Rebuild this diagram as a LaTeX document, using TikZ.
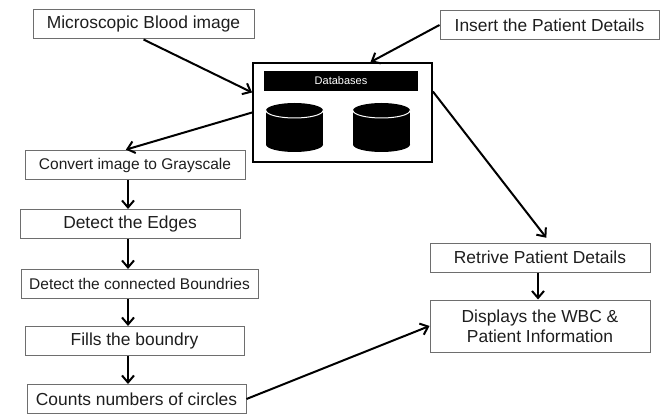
\documentclass[tikz,border=0pt]{standalone}
\usepackage{fontspec}
\setmainfont{Liberation Sans}
\usetikzlibrary{arrows.meta}
\definecolor{bordacinza}{RGB}{110,110,110}
\definecolor{textocinza}{RGB}{30,30,30}
\begin{document}
\begin{tikzpicture}[
		x=1pt, y=-1pt,
		caixa/.style={
			draw=bordacinza,
			rectangle,
			minimum height=29pt,
			inner sep=0pt,
			align=center,
			text=textocinza,
			line width=1pt,
			font=\fontsize{17.4}{20}\selectfont
		},
		caixapeq/.style={
			caixa,
			font=\fontsize{15.5}{18}\selectfont
		},
		seta/.style={
			-{Straight Barb[length=7pt,width=12pt]},
			line width=2pt
		}
		]
		\useasboundingbox (0,0) rectangle (666,414);
		
		\node[caixa, minimum width=221pt] (micro) at (143.5,24.5) {Microscopic Blood image};
		\node[caixa, minimum width=219pt] (insert) at (549.5,25) {Insert the Patient Details};
		
		\node[draw, line width=1.8pt, minimum width=179pt, minimum height=99pt] (db) at (342.5,112.5) {};
		\node[fill=black, text=white, minimum width=154pt, minimum height=20pt, inner sep=0pt,
			font=\fontsize{11}{13}\selectfont] (bar) at (341,81) {Databases};
		\foreach \cx in {294.5,381.5} {
			\fill (\cx-28.5,110.5) rectangle (\cx+28.5,144.5);
			\fill (\cx,110.5) ellipse (28.5 and 7.5);
			\fill (\cx,144.5) ellipse (28.5 and 7.5);
			\draw[white, line width=1pt] (\cx-28.5,110.5) arc (180:0:28.5 and 7.5);
		}
		
		\node[caixapeq, minimum width=220pt] (convert) at (135,165.5) {Convert image to Grayscale};
		\node[caixa, minimum width=220pt] (edges) at (130,224) {Detect the Edges};
		\node[caixapeq, minimum width=237pt] (bound) at (139.5,284) {Detect the connected Boundries};
		\node[caixa, minimum width=219pt] (fills) at (134.5,341) {Fills the boundry};
		\node[caixa, minimum width=219pt] (counts) at (136.5,399) {Counts numbers of circles};
		
		\node[caixa, minimum width=220pt] (retrive) at (540,257.5) {Retrive Patient Details};
		\node[caixa, minimum width=220pt, minimum height=52pt] (display) at (540,326) {Displays the WBC \&\\Patient Information};
		
		\coordinate (col) at (128,0);
		
		%Setas
		\draw[seta] (micro.south) -- ([yshift=20pt]db.west);
		\draw[seta] (insert.west) -- ([xshift=28pt]db.north);
		\draw[seta, shorten >=3pt] (db.west) -- ([xshift=-12pt]convert.north);
		\draw[seta] (convert.south -| col) -- (edges.north -| col);
		\draw[seta] (edges.south -| col) -- (bound.north -| col);
		\draw[seta] (bound.south -| col) -- (fills.north -| col);
		\draw[seta] (fills.south -| col) -- (counts.north -| col);
		\draw[seta, shorten >=6pt] ([yshift=21pt]db.east) -- ([xshift=10pt]retrive.north);
		\draw[seta] ([xshift=-2pt]retrive.south) -- ([xshift=-2pt]display.north);
		\draw[seta] (counts.east) -- (display.west);
		
	\end{tikzpicture}
\end{document}
